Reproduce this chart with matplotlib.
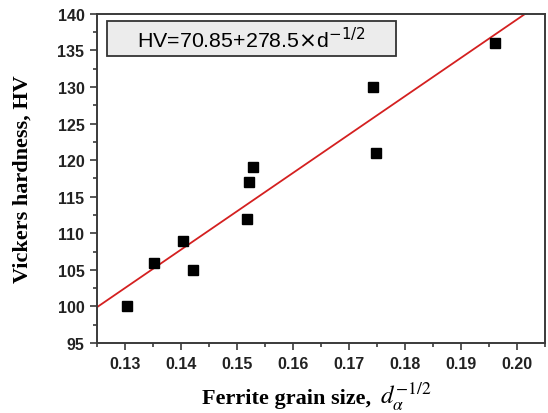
import matplotlib.pyplot as plt
from matplotlib.ticker import MultipleLocator
from matplotlib.patches import Rectangle

# grain size d^-1/2 and Vickers hardness
grain = [0.1304, 0.1352, 0.1404, 0.1421, 0.1518, 0.1521, 0.1528, 0.1743, 0.1748, 0.1961]
hardness = [100, 106, 109, 105, 112, 117, 119, 130, 121, 136]

# fitted line as drawn (end points)
fit_x = [0.125, 0.2014]
fit_y = [99.9, 140.0]

fig = plt.figure(figsize=(5.48, 4.14), dpi=100)
ax = fig.add_axes([0.177, 0.169, 0.818, 0.795])

ax.plot(fit_x, fit_y, color='#d42020', lw=1.3, zorder=2)
ax.plot(grain, hardness, 's', color='black', markersize=7.2, zorder=3)

ax.set_xlim(0.125, 0.205)
ax.set_ylim(95, 140)
ax.xaxis.set_major_locator(MultipleLocator(0.01))
ax.xaxis.set_minor_locator(MultipleLocator(0.005))
ax.yaxis.set_major_locator(MultipleLocator(5))
ax.yaxis.set_minor_locator(MultipleLocator(2.5))
ax.xaxis.set_major_formatter(lambda v, p: f"{v:.2f}")

for s in ax.spines.values():
    s.set_color('#3a3a3a')
    s.set_linewidth(1.4)

ax.tick_params(which='both', direction='out', color='#3a3a3a', width=1.2)
ax.tick_params(which='major', length=5, labelsize=11.5, pad=4)
ax.tick_params(which='minor', length=3)
for lbl in ax.get_xticklabels() + ax.get_yticklabels():
    lbl.set_fontweight('bold')
    lbl.set_fontfamily('Liberation Sans')
    lbl.set_color('#222222')

ax.set_ylabel('Vickers hardness, HV', fontfamily='Liberation Serif',
              fontweight='bold', fontsize=16)
ax.yaxis.set_label_coords(-0.143, 0.5)
fig.text(0.369, 0.025, 'Ferrite grain size,', fontfamily='Liberation Serif',
         fontweight='bold', fontsize=16, ha='left', va='baseline')
fig.text(0.693, 0.025, r'$d_{\alpha}^{-1/2}$', fontsize=18, ha='left',
         va='baseline', math_fontfamily='stix')

# equation box
ax.add_patch(Rectangle((0.022, 0.872), 0.645, 0.107, transform=ax.transAxes,
                       fc='#ececec', ec='#333333', lw=1.3, zorder=4))
ax.text(0.344, 0.9255, r'HV=70.85+278.5$\times$d$^{-1/2}$', transform=ax.transAxes,
        fontfamily='Liberation Sans', fontsize=15.4, va='center', ha='center',
        zorder=5)

fig.savefig('out.png', dpi=100)
